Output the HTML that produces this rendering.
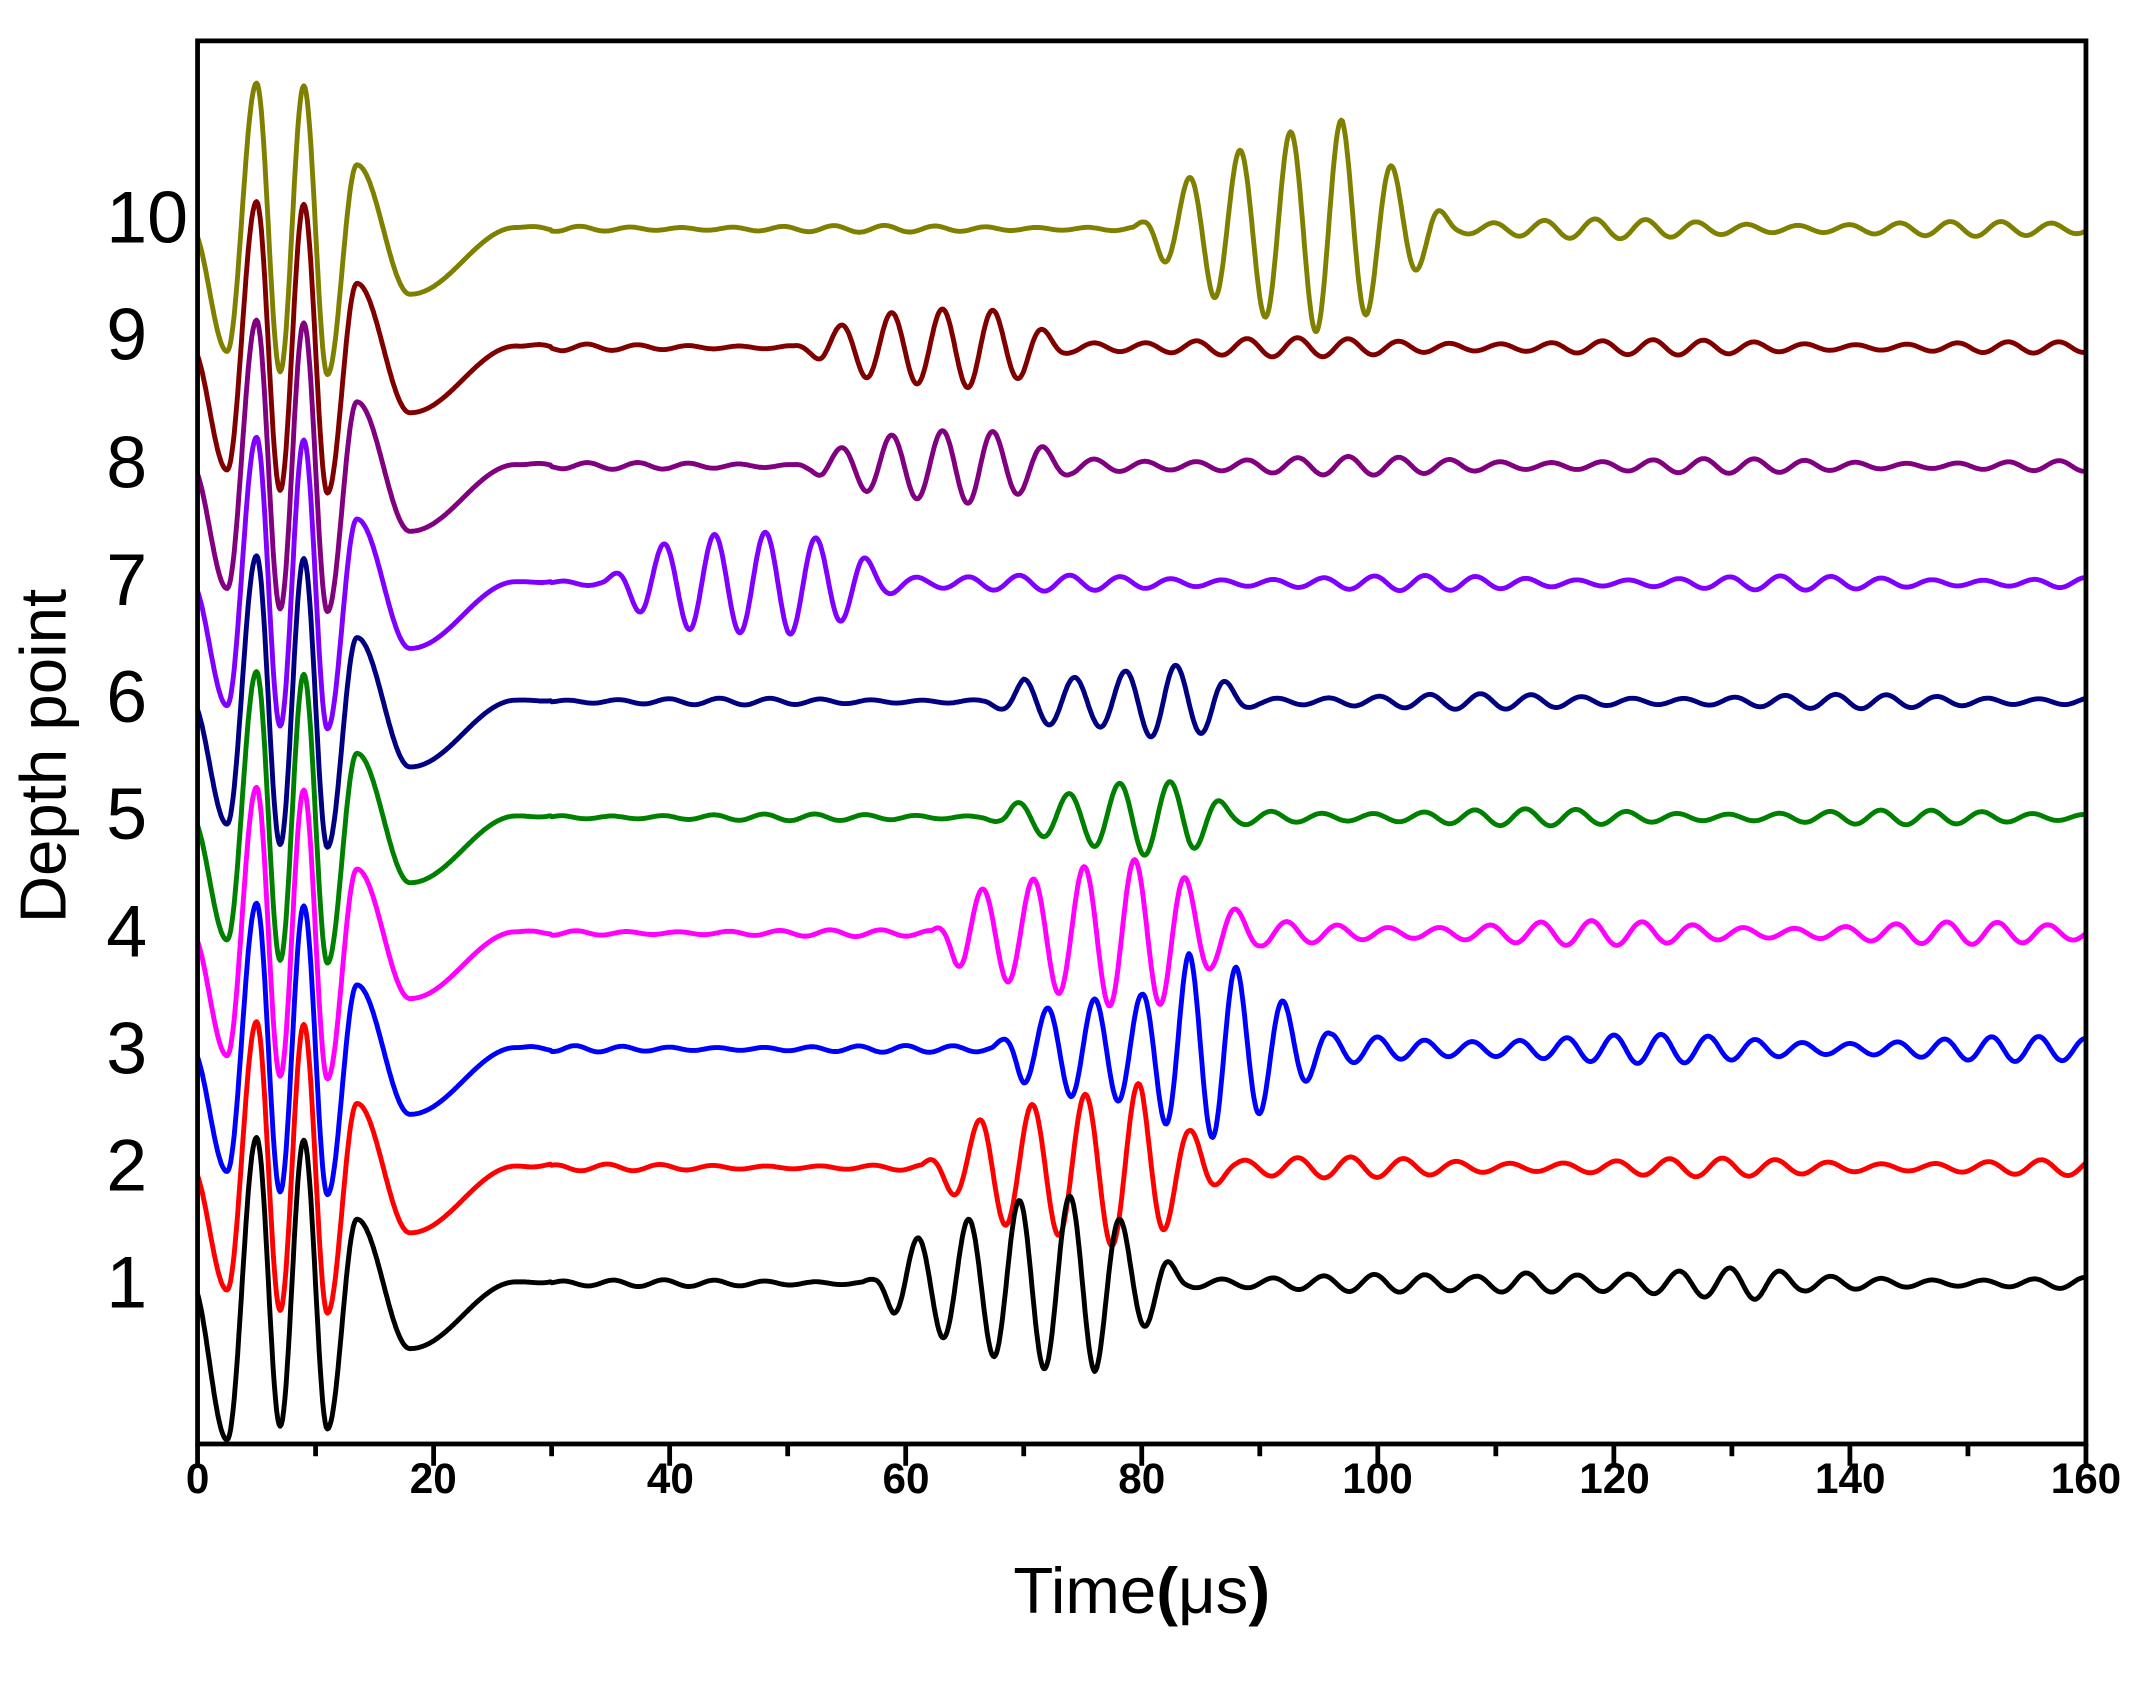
<!DOCTYPE html>
<html><head><meta charset="utf-8"><style>
html,body{margin:0;padding:0;background:#fff;}
svg{display:block;}
</style></head><body>
<svg id="s" width="2135" height="1681" viewBox="0 0 1567 1234" preserveAspectRatio="none" xmlns="http://www.w3.org/2000/svg">
<defs><clipPath id="c"><rect x="145" y="30" width="1386" height="1030"/></clipPath></defs>
<rect width="1567" height="1234" fill="#fff"/>
<g id="traces" clip-path="url(#c)" fill="none" stroke-width="3.6" stroke-linejoin="round"></g>
<rect x="145" y="30" width="1386" height="1030" fill="none" stroke="#000" stroke-width="3.5"/>
<g id="ticks" stroke="#000" stroke-width="3.5"></g>
<g font-family="Liberation Sans, sans-serif" font-weight="bold" font-size="31" text-anchor="middle" fill="#000">
<text x="145" y="1096">0</text><text x="318" y="1096">20</text><text x="492" y="1096">40</text>
<text x="665" y="1096">60</text><text x="838" y="1096">80</text><text x="1011" y="1096">100</text>
<text x="1185" y="1096">120</text><text x="1358" y="1096">140</text><text x="1531" y="1096">160</text>
</g>
<g font-family="Liberation Sans, sans-serif" font-size="54" text-anchor="end" fill="#000">
<text x="108" y="960">1</text><text x="108" y="874">2</text><text x="108" y="788">3</text>
<text x="108" y="702">4</text><text x="108" y="616">5</text><text x="108" y="530">6</text>
<text x="108" y="444">7</text><text x="108" y="358">8</text><text x="108" y="264">9</text>
<text x="138" y="178">10</text>
</g>
<text x="838" y="1184" font-family="Liberation Sans, sans-serif" font-size="48" text-anchor="middle">Time<tspan font-weight="bold">(</tspan>μs<tspan font-weight="bold">)</tspan></text>
<text transform="translate(48,555) rotate(-90)" font-family="Liberation Sans, sans-serif" font-size="48" text-anchor="middle">Depth point</text>
</svg>
<script>
(function(){
var X=function(t){return 145+t*1386/160;};
var tk=document.getElementById('ticks'),h='';
for(var v=0;v<=160;v+=10){var x=X(v);h+='<line x1="'+x+'" y1="1060" x2="'+x+'" y2="'+(v%20==0?1076:1069)+'"/>';}
tk.innerHTML=h;
function interp(pts,t){
 if(t<=pts[0][0])return pts[0][1];
 for(var i=0;i<pts.length-1;i++){var a=pts[i],b=pts[i+1];if(t<=b[0]){var u=(t-a[0])/(b[0]-a[0]);var w=(1-Math.cos(Math.PI*u))/2;return a[1]+(b[1]-a[1])*w;}}
 return pts[pts.length-1][1];
}
function lin(pts,t){
 if(t<=pts[0][0])return pts[0][1];
 for(var i=0;i<pts.length-1;i++){var a=pts[i],b=pts[i+1];if(t<=b[0]){var u=(t-a[0])/(b[0]-a[0]);return a[1]+(b[1]-a[1])*u;}}
 return pts[pts.length-1][1];
}
var early1=[[-0.5,0],[2.5,115],[5,-107],[7,105],[9,-105],[11,107],[13.5,-47],[18,48],[27,-1],[40,0]];
var early2=[[-0.5,0],[2.5,90],[5,-107],[7,105],[9,-105],[11,107],[13.5,-47],[18,48],[27,-1],[40,0]];
var T=[
 {b:942,c:'#000000',tp:61,P:4.3,e:[[56,0],[60,30],[70,62],[76,65],[79,40],[84,8],[108,6],[112,12],[132,12],[136,6],[160,5]],e1:1},
 {b:857,c:'#ff0000',tp:66.2,P:4.5,e:[[61,0],[64,20],[67,40],[76,55],[80,62],[84,28],[88,8],[160,6]]},
 {b:770,c:'#0000ff',tp:72,P:4,e:[[67,0],[70,25],[74,35],[80,40],[84,70],[88,60],[92,35],[96,12],[160,9]]},
 {b:685,c:'#ff00ff',tp:66.5,P:4.3,e:[[62,0],[65,30],[70,38],[78,55],[82,52],[86,25],[90,10],[160,8]]},
 {b:600,c:'#008000',tp:69.5,P:4.3,e:[[66,0],[69,15],[75,20],[80,28],[84,25],[88,7],[160,5]]},
 {b:515,c:'#000080',tp:70,P:4.3,e:[[66,0],[70,18],[76,18],[82,28],[86,22],[90,6],[160,5]]},
 {b:428,c:'#8000ff',tp:39.5,P:4.3,e:[[34,0],[38,25],[42,35],[50,38],[54,30],[58,15],[62,6],[160,5]]},
 {b:342,c:'#800080',tp:54.5,P:4.3,e:[[50,0],[53,15],[58,22],[66,28],[70,20],[74,8],[160,4]]},
 {b:255,c:'#800000',tp:54.5,P:4.3,e:[[50,0],[53,15],[58,25],[66,30],[70,22],[74,8],[160,4]]},
 {b:168,c:'#808000',tp:84,P:4.3,e:[[79,0],[82,25],[86,50],[92,70],[97,80],[100,55],[104,25],[107,8],[160,5]]}
];
var g=document.getElementById('traces'),out='';
for(var k=T.length-1;k>=0;k--){
 var tr=T[k],ear=tr.e1?early1:early2,pts=[];
 for(var i=0;i<=1600;i++){
  var t=i/10,y=0;
  if(t<30)y=interp(ear,t);
  var A=lin(tr.e,t);
  var fl=t>27?2.5*Math.min(1,(t-27)/4):0;
  var amp=Math.max(A,fl);
  var w=Math.max(0,Math.min(1,(22-amp)/12));
  amp*=1+w*(-0.3+0.3*Math.sin(t/5+k));
  y+=-amp*Math.cos(2*Math.PI*(t-tr.tp)/tr.P);
  pts.push(X(t).toFixed(1)+','+(tr.b+y).toFixed(1));
 }
 out+='<polyline stroke="'+tr.c+'" points="'+pts.join(' ')+'"/>';
}
g.innerHTML=out;
})();
</script>
</body></html>
